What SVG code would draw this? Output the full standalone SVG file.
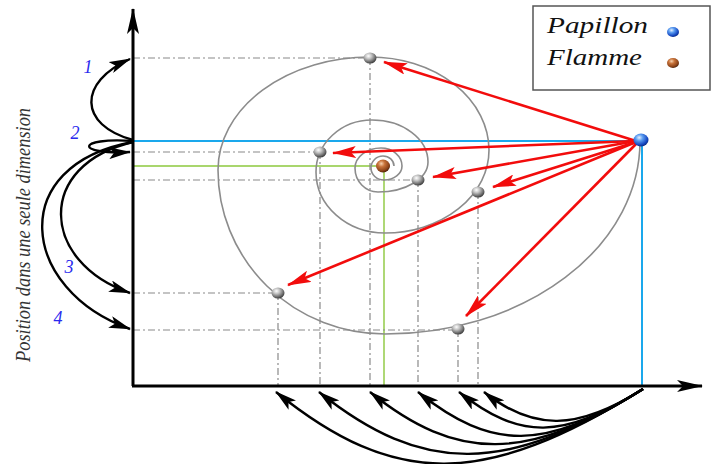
<svg xmlns="http://www.w3.org/2000/svg" width="712" height="464" viewBox="0 0 712 464">
<style>
.axis{stroke:#000;stroke-width:3;fill:none}
.guide{stroke:#8a8a8a;stroke-width:1.2;stroke-dasharray:7 3 2 3;fill:none}
.spiral{stroke:#8c8c8c;stroke-width:1.6;fill:none}
.red{stroke:#f20c0c;stroke-width:2.6;fill:none;marker-end:url(#ahRed)}
.blk{stroke:#000;stroke-width:2.4;fill:none;marker-end:url(#ahBlk)}
.num{font-family:"Liberation Serif",serif;font-style:italic;font-size:18px;fill:#2a2aee}
.leg{font-family:"Liberation Serif",serif;font-style:italic;font-size:24px;fill:#111}
.ylab{font-family:"Liberation Serif",serif;font-style:italic;font-size:20px;fill:#333}
</style>
<defs>
<marker id="ahRed" markerUnits="userSpaceOnUse" viewBox="0 0 24 12" refX="23" refY="6" markerWidth="24" markerHeight="12" orient="auto"><path d="M0,0 L24,6 L0,12 L5,6 Z" fill="#f20c0c"/></marker>
<marker id="ahBlk" markerUnits="userSpaceOnUse" viewBox="0 0 22 12" refX="21" refY="6" markerWidth="22" markerHeight="12" orient="auto"><path d="M0,0 L22,6 L0,12 L5,6 Z" fill="#000"/></marker>
<marker id="ahAxis" markerUnits="userSpaceOnUse" viewBox="0 0 26 12" refX="25" refY="6" markerWidth="26" markerHeight="12" orient="auto"><path d="M0,0 L26,6 L0,12 L6,6 Z" fill="#000"/></marker>
<radialGradient id="gGray" cx="38%" cy="32%" r="70%"><stop offset="0" stop-color="#ffffff"/><stop offset="0.35" stop-color="#c4c4c4"/><stop offset="0.8" stop-color="#666"/><stop offset="1" stop-color="#3a3a3a"/></radialGradient>
<radialGradient id="gBlue" cx="38%" cy="32%" r="70%"><stop offset="0" stop-color="#e6f0ff"/><stop offset="0.35" stop-color="#5a9cf0"/><stop offset="0.8" stop-color="#1446c0"/><stop offset="1" stop-color="#0a2a80"/></radialGradient>
<radialGradient id="gBrown" cx="38%" cy="32%" r="70%"><stop offset="0" stop-color="#f6d2b0"/><stop offset="0.35" stop-color="#c8733a"/><stop offset="0.8" stop-color="#8a4218"/><stop offset="1" stop-color="#4a200a"/></radialGradient>
</defs>
<rect width="712" height="464" fill="#fff"/>

<g id="guides">
<line x1="133" y1="141" x2="642" y2="141" stroke="#1aa8ec" stroke-width="2"/>
<line x1="642" y1="141" x2="642" y2="386" stroke="#1aa8ec" stroke-width="2"/>
<line x1="133" y1="166" x2="383" y2="166" stroke="#8cc83c" stroke-width="1.4"/>
<line x1="384" y1="166" x2="384" y2="386" stroke="#8cc83c" stroke-width="1.4"/>
<path class="guide" d="M133,58H370 M133,152H320 M133,180H418 M133,293H278 M133,330H458"/>
<path class="guide" d="M278,293V386 M320,152V386 M370,58V386 M418,180V386 M458,330V386 M478,192V386"/>
</g>

<g id="spiral">
<path class="spiral" d="M640,141 A255,193 0 0 1 385,334 A167,164 0 0 1 218,170 A152,113 0 0 1 370,57 A119,93 0 0 1 489,150 A104,83 0 0 1 385,233 A69,61 0 0 1 316,172 A56,52 0 0 1 372,120 A56,42 0 0 1 428,162 A50,30 0 0 1 378,192 A23,24 0 0 1 355,168 A26,20 0 0 1 381,148 A21,18 0 0 1 402,166 A18,14 0 0 1 384,180 A13,12 0 0 1 371,168 A12,12 0 0 1 383,156 A11,10 0 0 1 394,166"/>
</g>

<g id="axes">
<line class="axis" x1="133" y1="386" x2="133" y2="9" marker-end="url(#ahAxis)"/>
<line class="axis" x1="132" y1="386" x2="702" y2="386" marker-end="url(#ahAxis)"/>
</g>

<g id="connectors">
<path class="red" d="M636,141 L384,62"/>
<path class="red" d="M636,141 L333,153"/>
<path class="red" d="M636,141 L433,177"/>
<path class="red" d="M636,142 L493,187"/>
<path class="red" d="M636,142 L288,285"/>
<path class="red" d="M637,143 L466,316"/>
<path class="blk" d="M133,140 C78,125 78,82 130,59"/>
<path class="blk" d="M133,141 C75,137 75,155 130,152"/>
<path class="blk" d="M133,142 C35,165 40,262 130,293"/>
<path class="blk" d="M133,142 C5,165 20,290 130,329"/>
<path class="blk" d="M643,389 C484,488 395,488 276,392"/>
<path class="blk" d="M643,389 C505,475 423,475 319,392"/>
<path class="blk" d="M643,389 C527,462 457,462 370,392"/>
<path class="blk" d="M643,389 C544,451 492,451 418,392"/>
<path class="blk" d="M643,389 C562,440 520,440 459,392"/>
<path class="blk" d="M643,389 C577,431 533,431 484,392"/>
</g>

<g id="moth"><ellipse cx="641" cy="140" rx="7.5" ry="6.5" fill="url(#gBlue)"/></g>
<g id="flame"><ellipse cx="383" cy="166" rx="7" ry="6.5" fill="url(#gBrown)"/></g>
<g id="pos1"><ellipse cx="370" cy="58" rx="6.5" ry="5.5" fill="url(#gGray)"/></g>
<g id="pos2"><ellipse cx="320" cy="152" rx="6.5" ry="5.5" fill="url(#gGray)"/></g>
<g id="pos3"><ellipse cx="418" cy="180" rx="6.5" ry="5.5" fill="url(#gGray)"/></g>
<g id="pos4"><ellipse cx="478" cy="192" rx="6.5" ry="5.5" fill="url(#gGray)"/></g>
<g id="pos5"><ellipse cx="278" cy="293" rx="6.5" ry="5.5" fill="url(#gGray)"/></g>
<g id="pos6"><ellipse cx="458" cy="329" rx="6.5" ry="5.5" fill="url(#gGray)"/></g>

<g id="legend">
<rect x="533" y="6" width="177" height="84" fill="#fff" stroke="#555" stroke-width="1.5"/>
<text class="leg" x="547" y="33" textLength="101" lengthAdjust="spacingAndGlyphs">Papillon</text>
<text class="leg" x="547" y="65" textLength="95" lengthAdjust="spacingAndGlyphs">Flamme</text>
<ellipse cx="673" cy="32" rx="6" ry="5" fill="url(#gBlue)"/>
<ellipse cx="673" cy="63" rx="6" ry="5" fill="url(#gBrown)"/>
</g>

<g id="labels">
<text class="num" x="88" y="73" text-anchor="middle">1</text>
<text class="num" x="75" y="139" text-anchor="middle">2</text>
<text class="num" x="69" y="273" text-anchor="middle">3</text>
<text class="num" x="58" y="324" text-anchor="middle">4</text>
<text class="ylab" transform="translate(30,235) rotate(-90)" text-anchor="middle" textLength="254" lengthAdjust="spacingAndGlyphs">Position dans une seule dimension</text>
</g>
</svg>
